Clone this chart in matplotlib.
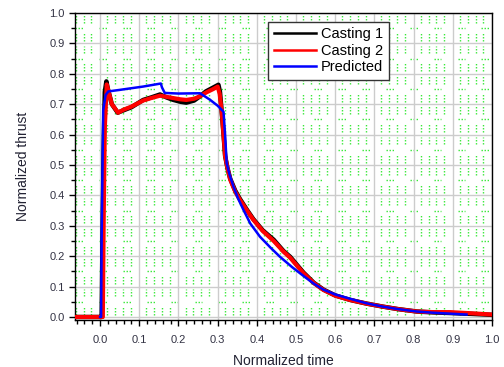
import matplotlib
matplotlib.use("Agg")
import matplotlib.pyplot as plt
from matplotlib.ticker import MultipleLocator, FormatStrFormatter
import numpy as np

plt.rcParams['font.family'] = ['Liberation Sans', 'DejaVu Sans']

# ---- data ----
c1_x = [-0.064, 0.0, 0.004, 0.006, 0.009, 0.012, 0.016, 0.02, 0.03, 0.045, 0.06, 0.08, 0.11, 0.13, 0.153,
        0.17, 0.187, 0.205, 0.22, 0.24, 0.255, 0.27, 0.289, 0.302, 0.306, 0.31, 0.315, 0.319, 0.325,
        0.332, 0.345, 0.357, 0.375, 0.391, 0.415, 0.443, 0.468, 0.485, 0.519, 0.545, 0.57, 0.6,
        0.638, 0.68, 0.722, 0.76, 0.808, 0.85, 0.893, 0.95, 1.0]
c1_y = [0.0, 0.0, 0.0, 0.25, 0.55, 0.74, 0.775, 0.75, 0.70, 0.672, 0.68, 0.69, 0.714, 0.722, 0.732,
        0.722, 0.714, 0.708, 0.705, 0.712, 0.726, 0.742, 0.755, 0.764, 0.74, 0.68, 0.60, 0.53, 0.49,
        0.455, 0.415, 0.388, 0.352, 0.322, 0.285, 0.254, 0.217, 0.198, 0.146, 0.113, 0.09, 0.071,
        0.056, 0.044, 0.034, 0.026, 0.018, 0.015, 0.013, 0.01, 0.007]

c2_x = [-0.064, 0.0, 0.007, 0.009, 0.012, 0.017, 0.022, 0.03, 0.046, 0.06, 0.08, 0.11, 0.13, 0.153,
        0.17, 0.187, 0.205, 0.22, 0.24, 0.255, 0.27, 0.289, 0.300, 0.305, 0.31, 0.315, 0.319, 0.325,
        0.332, 0.345, 0.357, 0.375, 0.391, 0.415, 0.443, 0.468, 0.485, 0.519, 0.545, 0.57, 0.6,
        0.638, 0.68, 0.722, 0.76, 0.808, 0.85, 0.893, 0.95, 1.0]
c2_y = [0.0, 0.0, 0.0, 0.3, 0.62, 0.765, 0.74, 0.70, 0.672, 0.682, 0.692, 0.712, 0.72, 0.728,
        0.724, 0.72, 0.716, 0.714, 0.718, 0.726, 0.738, 0.75, 0.758, 0.735, 0.68, 0.60, 0.53, 0.49,
        0.452, 0.412, 0.385, 0.35, 0.32, 0.283, 0.25, 0.215, 0.195, 0.144, 0.112, 0.089, 0.07,
        0.056, 0.044, 0.034, 0.026, 0.018, 0.016, 0.016, 0.012, 0.008]

pr_x = [0.0, 0.0026, 0.004, 0.008, 0.014, 0.021, 0.05, 0.077, 0.11, 0.155, 0.158, 0.165, 0.2, 0.255,
        0.28, 0.3, 0.315, 0.319, 0.323, 0.33, 0.34, 0.352, 0.366, 0.383, 0.408, 0.435, 0.459, 0.49,
        0.519, 0.545, 0.57, 0.6, 0.638, 0.68, 0.722, 0.76, 0.808, 0.85, 0.893, 0.935]
pr_y = [0.0, 0.0, 0.26, 0.68, 0.73, 0.742, 0.747, 0.752, 0.758, 0.768, 0.755, 0.737, 0.735, 0.736,
        0.715, 0.695, 0.675, 0.6, 0.506, 0.47, 0.43, 0.39, 0.352, 0.308, 0.264, 0.228, 0.198, 0.164,
        0.135, 0.11, 0.09, 0.074, 0.06, 0.045, 0.034, 0.026, 0.018, 0.014, 0.011, 0.008]

labels = ["Casting 1", "Casting 2", "Predicted"]
colors = ["black", "red", "blue"]

fig = plt.figure(figsize=(5.04, 3.67), dpi=100)
ax = fig.add_axes([0.1488, 0.128, 0.8274, 0.8366])

ax.set_xlim(-0.064, 1.0)
ax.set_ylim(-0.01, 1.0)

# decorative green dotted background pattern
gcol = '#22e622'
gls = (0, (1, 1.2))
for k in range(-1, 10):
    for j in range(1, 5):
        xc = 0.1 * k + 0.02 * j - 0.002
        if xc <= -0.064 or xc >= 1.0:
            continue
        for m in range(0, 11):
            yb = 0.1 * m
            for (a, b) in [(yb + 0.008, yb + 0.037), (yb - 0.032, yb - 0.007)]:
                a2, b2 = max(a, 0.0), min(b, 1.0)
                if b2 > a2:
                    ax.plot([xc, xc], [a2, b2], color=gcol, lw=1.0, ls=gls, zorder=0.3, alpha=0.9)
for i in range(0, 18):
    xs = -0.064 + 0.061 * i
    xe = min(xs + 0.02, 1.0)
    if xs >= 1.0:
        continue
    for m in range(0, 10):
        yh = 0.1 * m + 0.05
        ax.plot([xs, xe], [yh, yh], color=gcol, lw=1.0, ls=gls, zorder=0.3, alpha=0.9)

ax.grid(True, which='major', color='#cccccc', lw=1.0, zorder=0.5)
ax.set_axisbelow(True)

ax.plot(c1_x, c1_y, color=colors[0], lw=3.2, label=labels[0], zorder=2)
ax.plot(c2_x, c2_y, color=colors[1], lw=3.0, label=labels[1], zorder=3)
ax.plot(pr_x, pr_y, color=colors[2], lw=1.8, label=labels[2], zorder=4)

ax.xaxis.set_major_locator(MultipleLocator(0.1))
ax.xaxis.set_minor_locator(MultipleLocator(0.02))
ax.yaxis.set_major_locator(MultipleLocator(0.1))
ax.yaxis.set_minor_locator(MultipleLocator(0.05))
ax.xaxis.set_major_formatter(FormatStrFormatter('%.1f'))
ax.yaxis.set_major_formatter(FormatStrFormatter('%.1f'))

ax.tick_params(axis='both', which='major', direction='out', length=4, width=1.0,
               labelsize=8, labelcolor='#333344', color='black')
ax.tick_params(axis='both', which='minor', direction='out', length=3, width=1.0, color='black')
ax.tick_params(axis='x', which='major', pad=7)
ax.tick_params(top=False, right=False, which='both')

for s in ax.spines.values():
    s.set_color('black')
    s.set_linewidth(1.0)

ax.set_xlabel("Normalized time", fontsize=10, color='#222233', labelpad=6)
ax.set_ylabel("Normalized thrust", fontsize=10, color='#222233', labelpad=14)

leg = ax.legend(loc='upper left', bbox_to_anchor=(0.463, 0.972), fontsize=10.5, frameon=True,
                fancybox=False, borderpad=0.4, handlelength=2.9, handletextpad=0.3,
                labelspacing=0.15, borderaxespad=0)
leg.get_frame().set_edgecolor('#333333')
leg.get_frame().set_linewidth(1.0)
leg.get_frame().set_alpha(1.0)
for h in leg.get_lines():
    h.set_linewidth(1.8)

fig.savefig("out.png", dpi=100)
